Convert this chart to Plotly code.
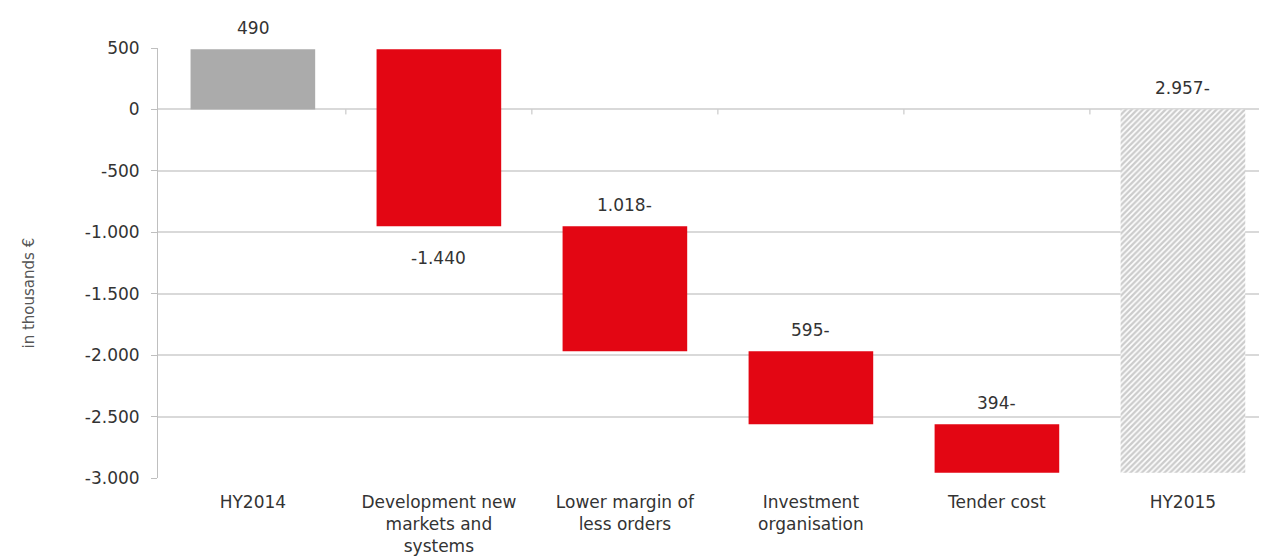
import numpy as np
import plotly.graph_objects as go

categories = [
    "HY2014",
    "Development new<br>markets and<br>systems",
    "Lower margin of<br>less orders",
    "Investment<br>organisation",
    "Tender cost",
    "HY2015",
]
start_value = 490
changes = [-1440, -1018, -595, -394]
end_value = -2957
labels = ["490", "-1.440", "1.018-", "595-", "394-", "2.957-"]
y_ticks = [500, 0, -500, -1000, -1500, -2000, -2500, -3000]
y_ticktext = ["500", "0", "-500", "-1.000", "-1.500", "-2.000", "-2.500", "-3.000"]

_FONT = "'DejaVu Sans', Lato, sans-serif"
_TEXT = "#333333"
_GRID = "#d9d9d9"
_RED = "#e30613"
_GREY = "#ababab"

# running totals for the floating bars
levels = np.cumsum([start_value] + changes)
bases = [0] + list(levels[:-1]) + [0]
heights = [start_value] + changes + [end_value]

fig = go.Figure()

fig.add_bar(
    x=categories[:1], y=heights[:1], base=bases[:1],
    marker=dict(color=_GREY, line_width=0), width=0.67,
)
fig.add_bar(
    x=categories[1:5], y=heights[1:5], base=bases[1:5],
    marker=dict(color=_RED, line_width=0), width=0.67,
)
fig.add_bar(
    x=categories[5:], y=heights[5:], base=bases[5:],
    marker=dict(
        color="white", line_width=0,
        pattern=dict(shape="/", fgcolor="#999999", bgcolor="white", size=4, solidity=0.6),
    ),
    width=0.67,
)

# value labels: above the bar, except the second one which sits below
for i, (cat, lab) in enumerate(zip(categories, labels)):
    top = max(bases[i], bases[i] + heights[i])
    bottom = min(bases[i], bases[i] + heights[i])
    if i == 1:
        fig.add_annotation(x=cat, y=bottom, text=lab, showarrow=False,
                           yanchor="top", yshift=-20, font=dict(size=17, color=_TEXT))
    else:
        fig.add_annotation(x=cat, y=top, text=lab, showarrow=False,
                           yanchor="bottom", yshift=9, font=dict(size=17, color=_TEXT))

# small tick marks between categories on the zero line
for i in range(len(categories) - 1):
    fig.add_shape(type="line", xref="x", yref="y", x0=i + 0.5, x1=i + 0.5,
                  ysizemode="pixel", yanchor=0, y0=0, y1=-5,
                  line=dict(color="#bfbfbf", width=1))

# axis title sits a little below the middle, like the original
fig.add_annotation(
    xref="paper", yref="paper", x=-0.125, y=0.43, text="in thousands €",
    textangle=-90, showarrow=False, font=dict(size=15, color="#555555"),
)

fig.update_layout(
    width=1267,
    height=557,
    template="plotly_white",
    paper_bgcolor="white",
    plot_bgcolor="white",
    showlegend=False,
    barmode="overlay",
    font=dict(family=_FONT, size=17, color=_TEXT),
    margin=dict(l=150, r=0, t=40, b=87),
    xaxis=dict(
        range=[-0.51, 5.495],
        showgrid=False,
        showline=False,
        ticks="",
        tickfont=dict(size=17, color=_TEXT),
        ticklabelstandoff=12,
        fixedrange=True,
    ),
    yaxis=dict(
        range=[-3000, 500],
        tickvals=y_ticks,
        ticktext=y_ticktext,
        showgrid=True,
        gridcolor=_GRID,
        gridwidth=1.5,
        zeroline=True,
        zerolinecolor=_GRID,
        zerolinewidth=1.5,
        showline=True,
        linecolor="#bfbfbf",
        linewidth=1,
        ticks="outside",
        ticklen=6,
        tickcolor="#bfbfbf",
        tickfont=dict(size=17, color=_TEXT),
        ticklabelstandoff=8,
    ),
)

fig.write_html("out.html")
